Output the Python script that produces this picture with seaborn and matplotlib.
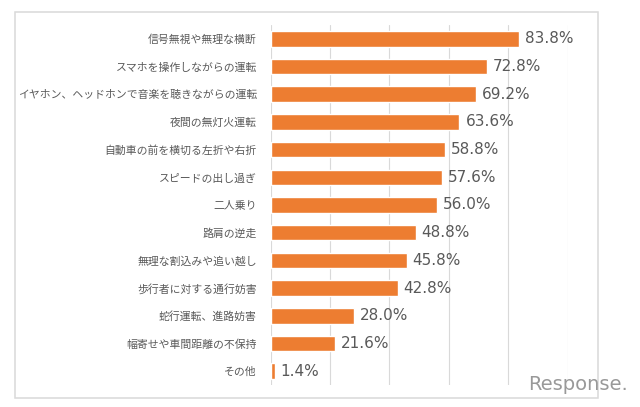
import matplotlib
matplotlib.use("Agg")
import matplotlib.pyplot as plt
import seaborn as sns
import pandas as pd
from matplotlib.patches import Rectangle

# data
categories = [
    "信号無視や無理な横断",
    "スマホを操作しながらの運転",
    "イヤホン、ヘッドホンで音楽を聴きながらの運転",
    "夜間の無灯火運転",
    "自動車の前を横切る左折や右折",
    "スピードの出し過ぎ",
    "二人乗り",
    "路肩の逆走",
    "無理な割込みや追い越し",
    "歩行者に対する通行妨害",
    "蛇行運転、進路妨害",
    "幅寄せや車間距離の不保持",
    "その他",
]
values = [83.8, 72.8, 69.2, 63.6, 58.8, 57.6, 56.0, 48.8, 45.8, 42.8, 28.0, 21.6, 1.4]
grid_ticks = [0, 20, 40, 60, 80, 100]

df = pd.DataFrame({"item": categories, "pct": values})

sns.set_theme(style="white")
plt.rcParams["font.family"] = ["Noto Sans CJK JP", "DejaVu Sans"]

W, H = 640, 407
fig = plt.figure(figsize=(6.4, 4.07), dpi=100)
ax = fig.add_axes([270.7 / W, 1 - 385 / H, (567.5 - 270.7) / W, (385 - 25) / H])

sns.barplot(data=df, x="pct", y="item", orient="h", color="#ED7D31",
            width=0.56, saturation=1, ax=ax)

ax.set_xlim(0, 100)
ax.set_ylim(12.5, -0.5)
ax.set_xticks(grid_ticks)
ax.tick_params(axis="x", length=0, labelbottom=False)
ax.tick_params(axis="y", length=0, pad=10, labelsize=7.8, labelcolor="#595959")
ax.grid(axis="x", color="#D9D9D9", linewidth=0.8)
ax.set_axisbelow(True)
for s in ax.spines.values():
    s.set_visible(False)
ax.set_xlabel("")
ax.set_ylabel("")

for i, v in enumerate(values):
    ax.text(v + 2, i, f"{v:.1f}%", va="center", ha="left", fontsize=11,
            color="#595959", family=["DejaVu Sans"])

# outer chart border
fig.patches.append(Rectangle((15 / W, 1 - 398 / H), (597.5 - 15) / W, (398 - 11.7) / H,
                             transform=fig.transFigure, fill=False,
                             edgecolor="#D9D9D9", linewidth=1.1))

# watermark
fig.text(628 / W, 1 - 384 / H, "Response.", ha="right", va="center",
         fontsize=14, color="#999999", family=["DejaVu Sans"])

fig.savefig("out.png", dpi=100)
